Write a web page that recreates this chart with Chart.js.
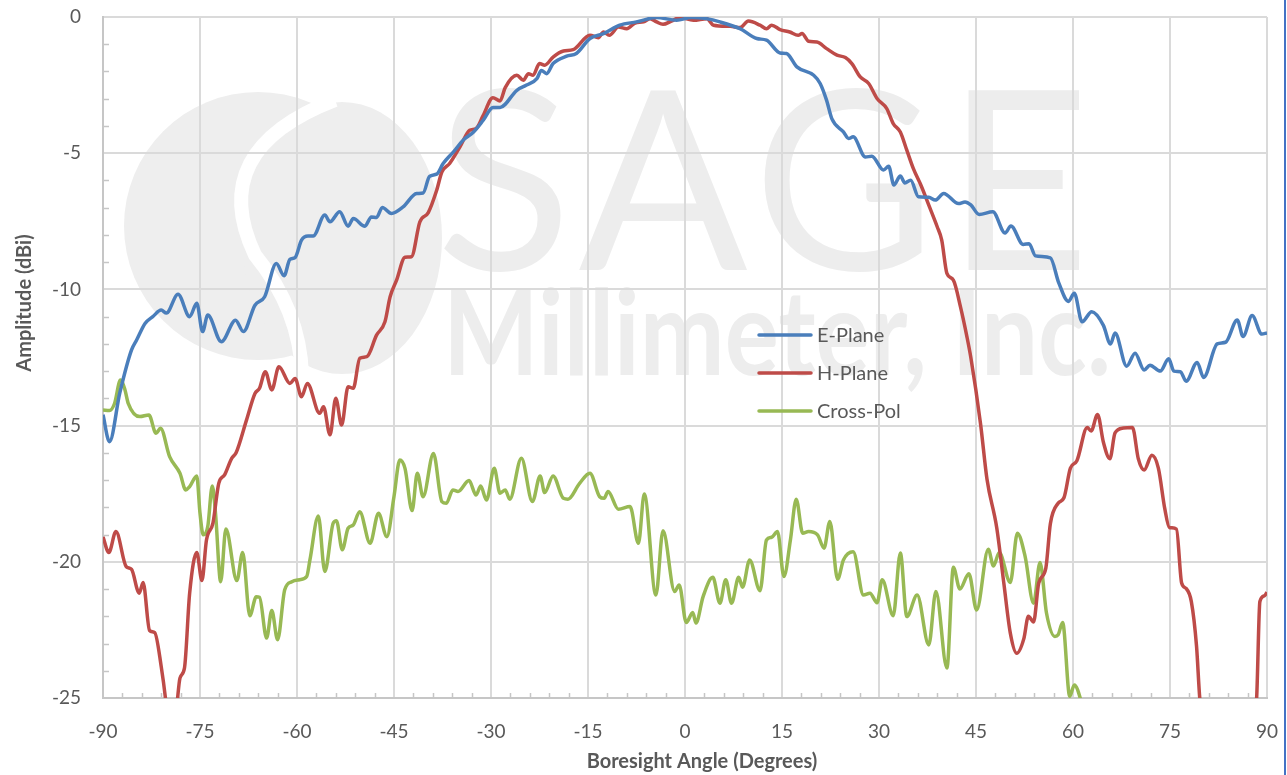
<!DOCTYPE html>
<html>
<head>
<meta charset="utf-8">
<title>Antenna Pattern</title>
<script src="https://cdn.jsdelivr.net/npm/chart.js@4.4.1/dist/chart.umd.min.js"></script>
<style>
  html, body { margin: 0; padding: 0; background: #fff; }
  #wrap { width: 1287px; height: 775px; position: relative; }
</style>
</head>
<body>
<div id="wrap"><canvas id="patternChart" width="1287" height="775"></canvas></div>
<script>
// Measured pattern cuts, angle in degrees / amplitude in dBi
const eAngle = [-90, -89.0, -87.4, -85.6, -84.8, -83.5, -82.3, -81.0, -80.2, -78.4, -76.6, -75.5, -74.6, -73.8, -71.7, -69.5, -68.3, -66.5, -65.0, -63.2,
    -62.0, -61.1, -60.3, -59.3, -58.3, -57.5, -55.7, -54.9, -53.4, -52.1, -51.3, -49.5, -48.5, -47.7, -46.8, -45.4, -43.6, -41.5, -40.5, -39.5,
    -38.4, -37.4, -35.8, -34.3, -32.7, -31.2, -29.7, -28.6, -26.0, -24.5, -22.9, -22.2, -21.4, -20.4, -18.3, -16.8, -14.7, -12.6, -10.1, -7.5,
    -4.4, -1.3, 1.0, 3.0, 5.4, 8.5, 11.1, 12.6, 14.7, 15.7, 17.3, 19.9, 20.9, 21.9, 22.7, 24.5, 25.3, 26.0, 27.9, 28.9,
    30.7, 31.5, 32.3, 33.3, 34.0, 34.9, 36.1, 37.7, 38.7, 40.0, 42.3, 43.3, 44.2, 45.5, 47.6, 49.5, 50.4, 52.3, 53.2, 54.2,
    56.5, 57.8, 59.3, 60.2, 61.4, 62.9, 64.7, 65.8, 66.5, 68.3, 69.6, 71.0, 71.9, 73.5, 74.8, 75.6, 76.6, 77.5, 79.2, 80.2,
    82.3, 83.6, 85.4, 86.3, 87.7, 89.2, 90];
const eGain = [-14.6, -15.59, -13.8, -12.23, -11.86, -11.25, -11.0, -10.76, -10.87, -10.18, -11.0, -10.51, -11.55, -10.94, -11.92, -11.13, -11.55, -10.58, -10.27, -9.05,
    -9.5, -8.9, -8.83, -8.19, -8.04, -8.04, -7.27, -7.52, -7.15, -7.68, -7.40, -7.68, -7.34, -7.36, -6.99, -7.21, -6.97, -6.48, -6.46, -5.85,
    -5.77, -5.38, -4.95, -4.52, -4.22, -3.79, -3.32, -3.32, -2.69, -2.5, -2.26, -1.96, -2.08, -1.71, -1.44, -1.34, -0.79, -0.61, -0.30, -0.18,
    -0.02, -0.12, -0.02, -0.05, -0.18, -0.43, -0.79, -0.85, -1.32, -1.34, -1.83, -2.14, -2.44, -3.06, -3.73, -4.22, -4.46, -4.40, -5.14, -5.11,
    -5.62, -5.48, -6.17, -5.84, -6.09, -5.99, -6.60, -6.62, -6.72, -6.48, -6.85, -6.79, -6.9, -7.25, -7.15, -7.93, -7.67, -8.35, -8.32, -8.77,
    -8.84, -9.76, -10.44, -10.14, -11.19, -10.82, -11.32, -12.0, -11.6, -12.82, -12.34, -12.96, -12.78, -13.0, -12.55, -13.0, -13.02, -13.37, -12.68, -13.23,
    -12.0, -11.94, -11.12, -11.73, -10.96, -11.64, -11.6];

const hAngle = [-90, -89.1, -88.0, -86.4, -85.6, -84.4, -83.8, -82.8, -82.0, -81.0, -80.3, -79.4, -78.5, -78.1, -77.4, -76.6, -75.5, -74.7, -74.0, -73.0,
    -72.1, -71.2, -70.1, -69.4, -67.8, -66.5, -65.8, -64.9, -63.9, -62.8, -61.1, -60.3, -59.3, -58.4, -56.5, -55.9, -54.9, -54.0, -53.1, -52.1,
    -51.3, -50.3, -49.2, -47.7, -46.4, -45.6, -44.6, -43.3, -42.3, -41.0, -39.7, -38.4, -37.6, -36.4, -34.8, -33.3, -32.3, -31.2, -29.7, -28.6,
    -27.8, -26.0, -25.0, -24.2, -23.5, -22.5, -21.7, -20.4, -18.8, -17.3, -14.7, -13.4, -12.6, -11.7, -10.3, -9.0, -7.7, -6.4, -5.4, -4.4,
    -3.4, -2.1, -0.8, 1.3, 3.4, 4.4, 7.0, 8.5, 9.8, 11.6, 12.6, 13.4, 14.7, 16.2, 17.5, 18.1, 19.1, 20.4, 21.9, 23.5,
    24.8, 25.8, 27.1, 28.4, 29.7, 31.2, 32.2, 33.3, 34.3, 35.3, 36.6, 37.7, 39.0, 39.7, 40.5, 41.5, 42.6, 43.6, 44.2, 45.7,
    46.7, 48.2, 49.3, 50.3, 51.3, 52.4, 53.1, 53.9, 54.7, 55.8, 56.5, 57.7, 58.6, 59.6, 60.6, 62.2, 62.8, 63.8, 64.7, 65.7,
    66.5, 67.8, 69.2, 70.1, 71.0, 72.2, 73.2, 74.2, 74.9, 76.0, 76.8, 77.5, 78.3, 79.1, 79.6, 81.5, 86.5, 88.4, 88.9, 89.6, 90];
const hGain = [-19.08, -19.66, -18.89, -20.18, -20.27, -21.15, -20.76, -22.52, -22.60, -23.84, -25.1, -27.5, -25.1, -24.27, -23.9, -21.15, -19.66, -20.69, -19.2, -18.58,
    -17.12, -16.81, -16.2, -15.99, -14.79, -13.82, -13.63, -13.02, -13.69, -12.84, -13.45, -13.27, -13.94, -13.45, -14.55, -14.31, -15.34, -14.0, -14.98, -13.57,
    -13.63, -12.53, -12.47, -11.68, -11.19, -10.27, -9.66, -8.82, -8.8, -7.52, -7.18, -6.36, -5.69, -5.38, -4.77, -4.16, -4.09, -3.61, -2.96, -3.08,
    -2.59, -2.14, -2.32, -2.08, -2.14, -1.71, -1.77, -1.47, -1.25, -1.20, -0.67, -0.76, -0.55, -0.67, -0.37, -0.43, -0.22, -0.18, -0.06, -0.18,
    -0.27, -0.15, -0.02, -0.12, -0.06, -0.3, -0.34, -0.39, -0.15, -0.3, -0.43, -0.3, -0.46, -0.55, -0.67, -0.61, -0.89, -0.92, -1.16, -1.40,
    -1.49, -1.71, -2.2, -2.44, -2.99, -3.36, -3.91, -4.22, -4.89, -5.56, -6.24, -6.91, -7.7, -8.19, -9.41, -9.66, -10.64, -11.74, -12.5, -14.93,
    -16.97, -18.74, -20.78, -22.61, -23.36, -22.82, -22.0, -22.21, -20.78, -20.23, -18.6, -17.85, -17.65, -16.56, -16.29, -15.07, -15.2, -14.59, -15.61, -16.22,
    -15.27, -15.09, -15.07, -16.22, -16.63, -16.09, -16.56, -18.06, -18.74, -18.8, -20.78, -20.98, -21.46, -23.09, -25.0, -28.5, -28.5, -25.0, -21.46, -21.25, -21.12];

const cAngle = [-90, -89.0, -88.2, -87.3, -86.6, -86.1, -84.3, -82.9, -81.8, -81.1, -79.7, -78.1, -77.2, -76.6, -75.5, -75.0, -74.5, -73.8, -73.1, -72.6,
    -71.8, -71.0, -69.3, -68.4, -67.3, -66.3, -65.8, -64.7, -63.9, -63.0, -61.9, -60.8, -59.6, -58.5, -58.0, -56.7, -55.7, -54.4, -53.9, -53.0,
    -52.1, -51.3, -50.3, -48.7, -47.4, -46.1, -45.0, -44.1, -43.3, -42.2, -41.4, -40.5, -38.9, -37.6, -36.9, -35.9, -35.1, -33.4, -32.3, -31.6,
    -30.7, -29.5, -28.6, -27.8, -27.1, -25.3, -23.6, -22.4, -21.7, -20.4, -18.8, -18.1, -16.3, -14.7, -13.2, -12.5, -11.9, -10.3, -8.5, -7.2,
    -6.3, -4.5, -3.4, -1.6, -0.9, 0.2, 1.2, 1.7, 2.8, 4.3, 5.4, 6.3, 7.2, 8.3, 8.9, 10.0, 11.6, 12.6, 13.4, 14.3,
    15.3, 16.3, 17.2, 18.2, 19.1, 20.5, 21.5, 22.4, 23.6, 24.5, 26.0, 27.6, 28.6, 29.7, 30.5, 32.2, 33.3, 34.3, 35.9, 37.7,
    38.8, 40.5, 41.5, 42.5, 43.9, 45.1, 46.9, 47.7, 48.6, 50.3, 51.4, 52.6, 53.9, 54.9, 55.9, 57.2, 57.7, 58.4, 59.5, 60.2,
    61.2, 62.5];
const cGain = [-14.43, -14.45, -14.18, -13.33, -13.69, -14.18, -14.67, -14.61, -15.28, -15.1, -16.14, -16.75, -17.36, -17.24, -16.85, -18.22, -19.01, -18.71, -17.22, -18.22,
    -20.73, -18.8, -20.69, -19.66, -21.98, -21.28, -21.30, -22.8, -21.79, -22.86, -21.03, -20.73, -20.66, -20.54, -19.93, -18.32, -20.36, -18.58, -18.49, -19.56,
    -18.77, -18.65, -18.16, -19.32, -18.22, -19.08, -17.6, -16.26, -16.57, -18.12, -16.75, -17.61, -16.02, -17.79, -17.85, -17.36, -17.42, -17.02, -17.55, -17.22,
    -17.73, -16.57, -17.48, -17.36, -17.7, -16.2, -17.79, -16.85, -17.46, -16.85, -17.67, -17.7, -17.12, -16.75, -17.61, -17.67, -17.42, -18.07, -17.97, -19.32,
    -17.51, -21.22, -18.86, -21.09, -20.85, -22.23, -21.86, -22.25, -21.28, -20.57, -21.52, -20.66, -21.52, -20.57, -20.93, -19.93, -21.06, -19.2, -19.1, -18.89,
    -20.54, -19.2, -17.7, -18.95, -18.89, -19.01, -19.5, -18.52, -20.64, -19.93, -19.63, -21.22, -21.15, -21.5, -20.66, -21.98, -19.68, -22.01, -21.22, -23.05,
    -21.09, -23.9, -20.2, -21.0, -20.44, -21.77, -19.54, -20.15, -19.66, -20.76, -18.95, -19.81, -21.52, -20.03, -21.88, -22.74, -22.68, -22.23, -24.94, -24.52,
    -25.07, -26.5];

const angleTicks = [-90, -75, -60, -45, -30, -15, 0, 15, 30, 45, 60, 75, 90];
const ampTicks = [0, -5, -10, -15, -20, -25];
const seriesNames = ['E-Plane', 'H-Plane', 'Cross-Pol'];

const FONT = 'Lato, "Liberation Sans", sans-serif';
const TEXT = '#595959';

const toPoints = (xs, ys) => xs.map((x, i) => ({ x: x, y: ys[i] }));

// faint company mark behind the grid
const watermark = {
    id: 'watermark',
    beforeDraw(chart) {
        const c = chart.ctx;
        c.save();
        c.fillStyle = '#eeeeee';
        c.beginPath();
        c.arc(258, 226, 134, 0, Math.PI * 2);
        c.fill();
        c.beginPath();
        c.ellipse(342, 238, 100, 136, 0, 0, Math.PI * 2);
        c.fill();
        c.strokeStyle = '#ffffff';
        c.lineWidth = 14;
        c.beginPath();
        c.moveTo(335, 100);
        c.quadraticCurveTo(205, 150, 255, 255);
        c.quadraticCurveTo(300, 310, 302, 375);
        c.stroke();

        c.fillStyle = '#ededed';
        c.textBaseline = 'alphabetic';
        c.font = '250px ' + FONT;
        c.letterSpacing = '10px';
        c.fillText('SAGE', 436, 270);
        c.letterSpacing = '0px';
        c.font = 'bold 118px ' + FONT;
        c.fillText('Millimeter, Inc.', 443, 375, 668);
        c.restore();
    }
};

// inner minor ticks, axis titles, inline legend, frame edge
const decorations = {
    id: 'decorations',
    afterDraw(chart) {
        const c = chart.ctx;
        const xs = chart.scales.x, ys = chart.scales.y;
        const a = chart.chartArea;
        c.save();
        c.strokeStyle = '#c6c6c6';
        c.lineWidth = 1.5;
        c.beginPath();
        for (let v = -90; v <= 90; v += 3) {
            if (v % 15 === 0) continue;
            const px = Math.round(xs.getPixelForValue(v)) + 0.5;
            c.moveTo(px, a.bottom);
            c.lineTo(px, a.bottom - 5);
        }
        for (let v = -25; v <= 0; v += 1) {
            if (v % 5 === 0) continue;
            const py = Math.round(ys.getPixelForValue(v)) + 0.5;
            c.moveTo(a.left, py);
            c.lineTo(a.left + 6, py);
        }
        c.stroke();

        // axis titles
        c.fillStyle = TEXT;
        c.font = 'bold 20px ' + FONT;
        c.textAlign = 'center';
        c.textBaseline = 'middle';
        c.fillText('Boresight Angle (Degrees)', 702, 762);
        c.save();
        c.translate(25, 303);
        c.rotate(-Math.PI / 2);
        c.fillText('Amplitude (dBi)', 0, 0);
        c.restore();

        // legend inside the plot
        c.font = '20px ' + FONT;
        c.textAlign = 'left';
        chart.data.datasets.forEach((ds, i) => {
            const y = 335 + i * 38;
            c.strokeStyle = ds.borderColor;
            c.lineWidth = 3.5;
            c.lineCap = 'round';
            c.beginPath();
            c.moveTo(759, y);
            c.lineTo(811, y);
            c.stroke();
            c.fillText(ds.label, 817, y + 1);
        });

        c.fillStyle = '#4472c4';
        c.fillRect(1284, 0, 2, 775);
        c.restore();
    }
};

const makeSet = (label, xs, ys, color) => ({
    label: label,
    data: toPoints(xs, ys),
    borderColor: color,
    backgroundColor: color,
    borderWidth: 3.5,
    pointRadius: 0,
    cubicInterpolationMode: 'monotone',
    fill: false
});

new Chart(document.getElementById('patternChart').getContext('2d'), {
    type: 'line',
    data: {
        datasets: [
            makeSet(seriesNames[0], eAngle, eGain, '#4a7ebb'),
            makeSet(seriesNames[1], hAngle, hGain, '#be4b48'),
            makeSet(seriesNames[2], cAngle, cGain, '#98b954')
        ]
    },
    options: {
        responsive: false,
        animation: false,
        layout: { padding: { top: 17, right: 20, left: 0, bottom: 0 } },
        plugins: {
            legend: { display: false },
            tooltip: { enabled: false }
        },
        scales: {
            x: {
                type: 'linear',
                min: -90,
                max: 90,
                afterBuildTicks: s => { s.ticks = angleTicks.map(v => ({ value: v })); },
                afterFit: s => { s.height = 77; s.paddingLeft = 0; s.paddingRight = 0; },
                grid: { color: '#dadada', lineWidth: 2, drawTicks: false },
                border: { color: '#c6c6c6', width: 2 },
                ticks: { color: TEXT, padding: 22, font: { family: FONT, size: 19 }, maxRotation: 0 }
            },
            y: {
                type: 'linear',
                min: -25,
                max: 0,
                afterBuildTicks: s => { s.ticks = ampTicks.map(v => ({ value: v })); },
                afterFit: s => { s.width = 103; s.paddingTop = 0; s.paddingBottom = 0; },
                grid: { color: '#dadada', lineWidth: 2, drawTicks: false },
                border: { color: '#c6c6c6', width: 2 },
                ticks: { color: TEXT, padding: 22, font: { family: FONT, size: 19 } }
            }
        }
    },
    plugins: [watermark, decorations]
});
</script>
</body>
</html>
